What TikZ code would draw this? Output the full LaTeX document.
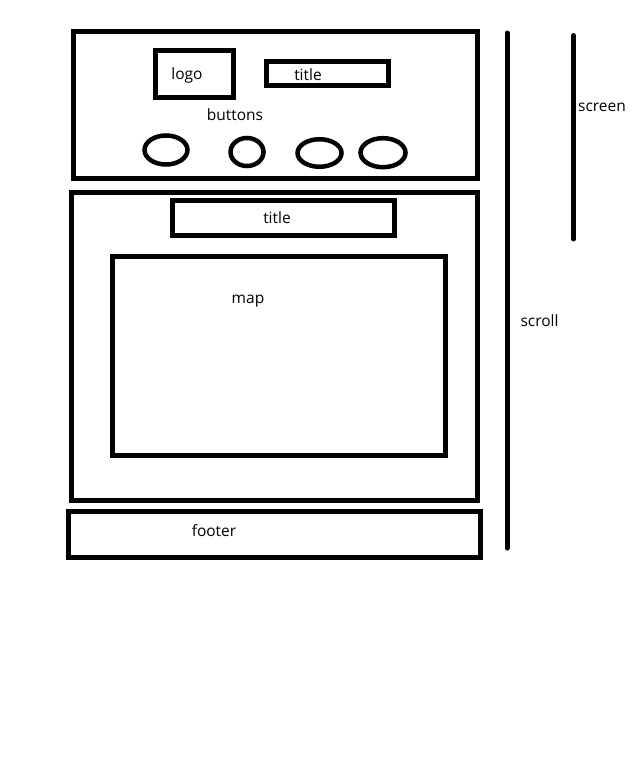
\documentclass[tikz,border=0pt]{standalone}
\usepackage{fontspec}
\setmainfont{Open Sans}
\usetikzlibrary{shapes.geometric}
\begin{document}
\begin{tikzpicture}[x=1pt,y=-1pt,
  box/.style={draw=black,line width=5pt,inner sep=0pt,rectangle},
  btn/.style={draw=black,line width=4.5pt,inner sep=0pt,ellipse},
  lbl/.style={inner sep=0pt,font=\fontsize{15.5}{18}\selectfont,text=black},
  bar/.style={draw=black,line width=5pt,line cap=round}]
\useasboundingbox (0,0) rectangle (641,765);
\fill[white] (0,0) rectangle (641,765);
% header
\node[box,minimum width=404pt,minimum height=146.5pt] (header) at (275,104.75) {};
\node[box,minimum width=78pt,minimum height=47pt] (logo) at (194.5,74) {};
\node[lbl] (logot) at (187,75) {logo};
\node[box,minimum width=122pt,minimum height=24.5pt] (title1) at (327,73.75) {};
\node[lbl] (title1t) at (308,75) {title};
\node[lbl] (buttons) at (235,115) {buttons};
\node[btn,minimum width=43pt,minimum height=29pt] (b1) at (166,150) {};
\node[btn,minimum width=33pt,minimum height=28pt] (b2) at (247,152) {};
\node[btn,minimum width=44pt,minimum height=27.5pt] (b3) at (319.5,153) {};
\node[btn,minimum width=45pt,minimum height=29pt] (b4) at (383,152.7) {};
% main
\node[box,minimum width=406pt,minimum height=307.5pt] (main) at (274.5,346.25) {};
\node[box,minimum width=221.5pt,minimum height=35pt] (title2) at (283.25,217.5) {};
\node[lbl] (title2t) at (277,218) {title};
\node[box,minimum width=332.5pt,minimum height=199pt] (map) at (278.75,355.5) {};
\node[lbl] (mapt) at (248,301) {map};
% footer
\node[box,minimum width=411.5pt,minimum height=46pt] (footer) at (274.25,534) {};
\node[lbl] (footert) at (214,531) {footer};
% side bars
\coordinate (scrolltop) at (507,33);
\coordinate (scrollbot) at (507,548);
\coordinate (screentop) at (573.5,35.5);
\coordinate (screenbot) at (573.5,239);
\draw[bar] (scrolltop) -- (scrollbot);
\draw[bar] (screentop) -- (screenbot);
\node[lbl] (screent) at (602,107) {screen};
\node[lbl] (scrollt) at (539.5,321) {scroll};
\end{tikzpicture}
\end{document}
